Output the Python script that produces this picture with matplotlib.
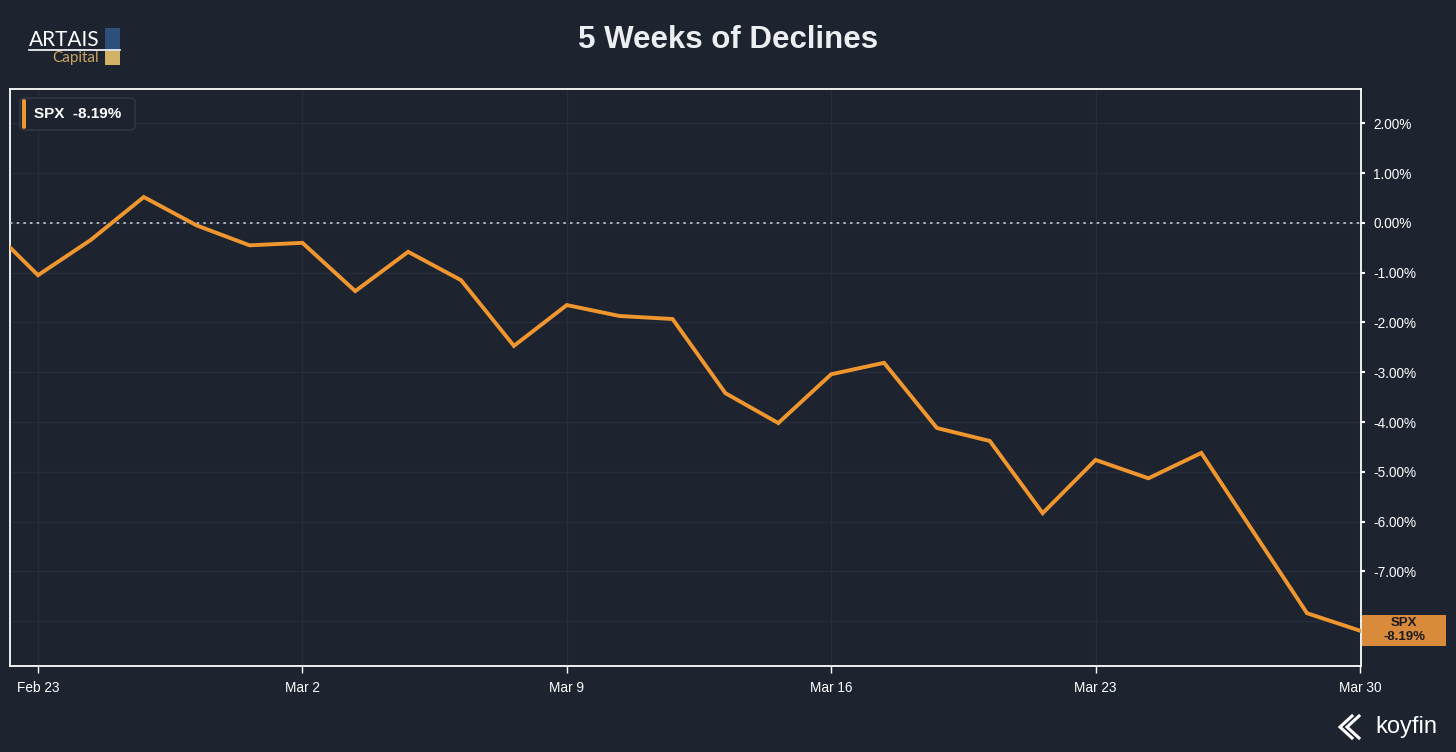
import matplotlib
matplotlib.use("Agg")
import matplotlib.pyplot as plt
from matplotlib.patches import FancyBboxPatch, Rectangle
from matplotlib.lines import Line2D

plt.rcParams['font.family'] = ['Liberation Sans', 'DejaVu Sans']

# ---- data (trading days, % change since Feb 20) ----
dates = ["Feb 20", "Feb 23", "Feb 24", "Feb 25", "Feb 26", "Feb 27",
         "Mar 2", "Mar 3", "Mar 4", "Mar 5", "Mar 6",
         "Mar 9", "Mar 10", "Mar 11", "Mar 12", "Mar 13",
         "Mar 16", "Mar 17", "Mar 18", "Mar 19", "Mar 20",
         "Mar 23", "Mar 24", "Mar 25", "Mar 26", "Mar 27",
         "Mar 30"]
spx = [0.00, -1.05, -0.34, 0.52, -0.05, -0.45,
       -0.40, -1.37, -0.58, -1.15, -2.47,
       -1.65, -1.87, -1.93, -3.42, -4.02,
       -3.04, -2.81, -4.12, -4.38, -5.83,
       -4.76, -5.13, -4.62, -6.23, -7.84,
       -8.19]
xtick_labels = ["Feb 23", "Mar 2", "Mar 9", "Mar 16", "Mar 23", "Mar 30"]
ytick_vals = [2, 1, 0, -1, -2, -3, -4, -5, -6, -7, -8]

BG = '#1e2330'
ORANGE = '#f0962f'
GRID = '#272d3a'

fig = plt.figure(figsize=(14.56, 7.52), dpi=100, facecolor=BG)
ax = fig.add_axes([10/1456, 1-666/752, (1361-10)/1456, (666-89)/752])
ax.set_facecolor(BG)

x = list(range(-1, len(dates)-1))  # Feb 23 -> 0
ax.plot(x, spx, color=ORANGE, lw=2.8, solid_joinstyle='miter', zorder=5, clip_on=True)
ax.axhline(0, color='#c8ccd4', lw=1.2, ls=(0, (1.5, 2.5)), zorder=3)

ax.set_xlim(-0.53, 25.02)
ax.set_ylim(-8.90, 2.69)

xt = [dates.index(d) - 1 for d in xtick_labels]
ax.set_xticks(xt)
ax.set_xticklabels(xtick_labels, color='white', fontsize=9.8)
ax.set_yticks(ytick_vals)
# the -8.00% label is hidden behind the last-value tag in the reference
ax.set_yticklabels([f"{v:.2f}%" if v != -8 else "" for v in ytick_vals],
                   color='white', fontsize=9.8)
ax.yaxis.tick_right()
ax.tick_params(axis='x', colors='white', length=5, width=1, pad=6, labelcolor='white')
ax.tick_params(axis='y', colors='white', length=3, width=1.5, pad=6, labelcolor='white')

ax.grid(True, color=GRID, lw=1)
ax.set_axisbelow(True)
for s in ax.spines.values():
    s.set_color('white')
    s.set_linewidth(1.3)

# legend box
leg = FancyBboxPatch((20/1456, 1-130/752), 115/1456, 32/752,
                     boxstyle="round,pad=0,rounding_size=0.004",
                     transform=fig.transFigure, facecolor=BG,
                     edgecolor='#343a48', lw=1, zorder=10)
fig.patches.append(leg)
fig.patches.append(FancyBboxPatch((22/1456, 1-129/752), 4/1456, 30/752,
                                  boxstyle="round,pad=0,rounding_size=0.002",
                                  transform=fig.transFigure, facecolor=ORANGE,
                                  edgecolor='none', zorder=11))
fig.text(34/1456, 1-114/752, f"SPX  {spx[-1]:.2f}%", color='white', fontsize=11,
         fontweight='bold', va='center', ha='left', zorder=12)

# last value label
fig.patches.append(Rectangle((1362/1456, 1-646/752), 84/1456, 31/752,
                             transform=fig.transFigure, facecolor='#d98a3a',
                             edgecolor='none', zorder=10))
fig.text(1404/1456, 1-630/752, f"SPX\n{spx[-1]:.2f}%", color='#1a1a1a', fontsize=9.5,
         fontweight='bold', ha='center', va='center', linespacing=1.15,
         multialignment='center', zorder=11)

# title
fig.text(728/1456, 1-40/752, "5 Weeks of Declines", color='#eceef2', fontsize=22.5,
         fontweight='bold', ha='center', va='center')

# ARTAIS Capital logo
fig.text(29/1456, 1-40/752, "ARTAIS", color='white', fontsize=15, ha='left',
         va='center', family=['Lato', 'DejaVu Sans'], fontweight='normal')
fig.add_artist(Line2D([29/1456, 120/1456], [1-50/752, 1-50/752], color='white',
                      lw=1.2, transform=fig.transFigure))
fig.text(99/1456, 1-58/752, "Capital", color='#c9a55e', fontsize=11, ha='right',
         va='center', family=['Lato', 'DejaVu Sans'], fontweight='normal')
fig.patches.append(Rectangle((105/1456, 1-50/752), 15/1456, 22/752,
                             transform=fig.transFigure, facecolor='#2c4f7c',
                             edgecolor='none'))
fig.patches.append(Rectangle((105/1456, 1-65/752), 15/1456, 14/752,
                             transform=fig.transFigure, facecolor='#d2b266',
                             edgecolor='none'))

# koyfin logo
fig.text(1375/1456, 1-727/752, "koyfin", color='white', fontsize=17, ha='left',
         va='center')
for dx in (0, 7):
    fig.add_artist(Line2D([(1352+dx)/1456, (1340+dx)/1456, (1352+dx)/1456],
                          [1-716/752, 1-727/752, 1-738/752], color='white',
                          lw=2.2, transform=fig.transFigure, solid_joinstyle='miter'))

fig.savefig("out.png", dpi=100, facecolor=BG)
